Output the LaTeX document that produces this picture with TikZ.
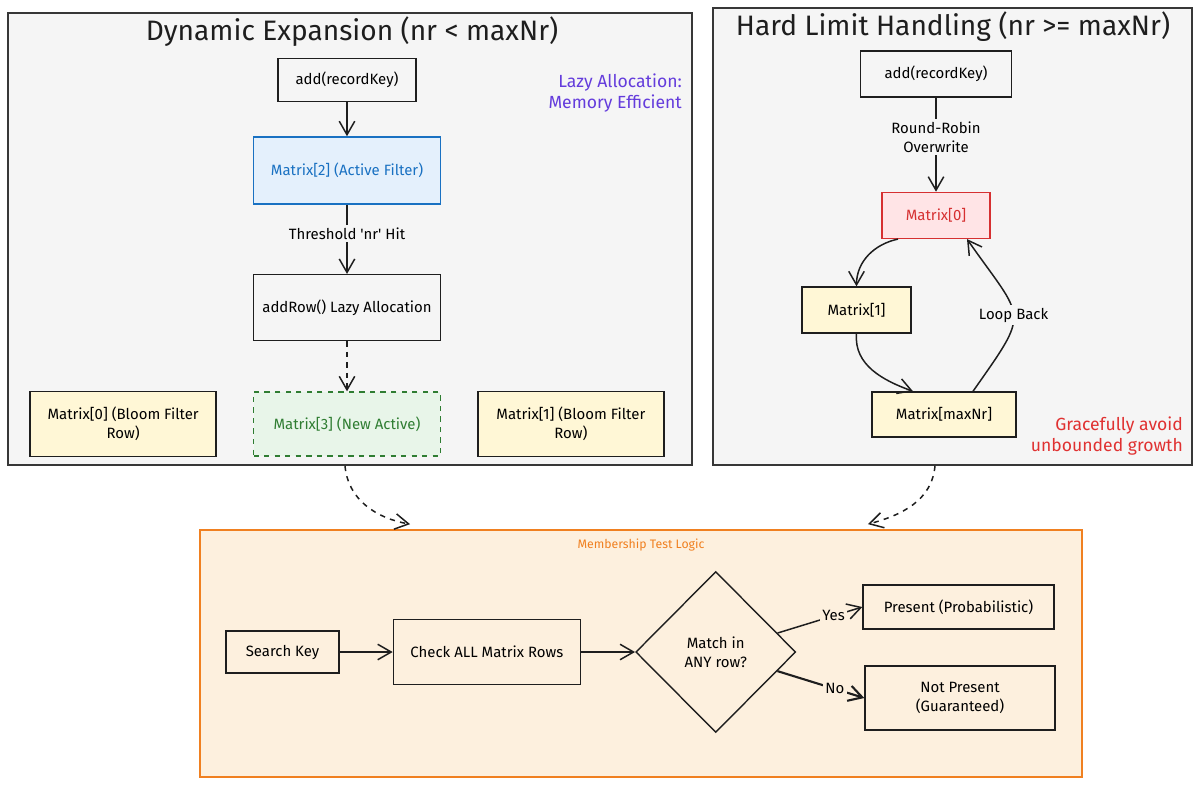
\documentclass[tikz,border=0pt]{standalone}
\usepackage{fontspec}
\setmainfont{Fira Sans}
\usetikzlibrary{positioning,arrows.meta,calc,shapes.geometric}
\definecolor{PanelGrey}{RGB}{245,245,245}
\definecolor{PanelLine}{RGB}{55,55,55}
\definecolor{InkBlack}{RGB}{30,30,30}
\definecolor{ActiveBlue}{RGB}{25,113,194}
\definecolor{ActiveFill}{RGB}{228,240,252}
\definecolor{NewGreen}{RGB}{47,125,50}
\definecolor{NewFill}{RGB}{232,245,233}
\definecolor{RowFill}{RGB}{255,247,214}
\definecolor{HotRed}{RGB}{214,48,49}
\definecolor{HotFill}{RGB}{255,228,230}
\definecolor{TestOrange}{RGB}{240,128,32}
\definecolor{TestFill}{RGB}{253,240,222}
\definecolor{NotePurple}{RGB}{100,60,220}
\definecolor{NoteRed}{RGB}{224,49,49}
\newcommand{\boxfont}{\fontsize{8.5}{11}\selectfont}
\tikzset{
  panel/.style={draw=PanelLine,fill=PanelGrey,line width=1pt},
  flow/.style={-{Straight Barb[length=2.7mm,width=3.1mm]},line width=0.85pt,draw=InkBlack},
  dashflow/.style={flow,dashed},
  box/.style={draw=InkBlack,line width=0.8pt,align=center,font=\boxfont,inner sep=2pt},
  rowbox/.style={box,fill=RowFill},
  activebox/.style={box,draw=ActiveBlue,fill=ActiveFill,text=ActiveBlue,line width=1pt},
  newbox/.style={box,draw=NewGreen,fill=NewFill,text=NewGreen,dashed,line width=0.8pt},
  hotbox/.style={box,draw=HotRed,fill=HotFill,text=HotRed},
  decision/.style={diamond,aspect=1,draw=InkBlack,line width=0.8pt,align=center,
    font=\boxfont,inner sep=1pt},
  paneltitle/.style={font=\fontsize{16}{19}\selectfont,text=InkBlack},
  sidenote/.style={align=right,font=\fontsize{10}{12}\selectfont},
  edgelabel/.style={font=\boxfont,align=center,inner sep=1.5pt}
}

\begin{document}
\begin{tikzpicture}[x=0.02cm,y=-0.02cm]
  \useasboundingbox (0,0) rectangle (1200,785);

  % panels
  \node[panel,minimum width=13.68cm,minimum height=9.04cm] (lpanel) at (350,239) {};
  \node[panel,minimum width=9.58cm,minimum height=9.14cm] (rpanel) at (952.5,236.5) {};
  \node[draw=TestOrange,fill=TestFill,line width=1pt,minimum width=17.64cm,
    minimum height=4.94cm] (bpanel) at (641,653.5) {};

  % dynamic expansion
  \node[paneltitle] (ltitle) at (352,32) {Dynamic Expansion (nr < maxNr)};
  \node[box,minimum width=2.76cm,minimum height=0.86cm] (ladd) at (347,80) {add(recordKey)};
  \node[activebox,below=0.68cm of ladd,minimum width=3.74cm,minimum height=1.34cm] (m2) {Matrix[2] (Active Filter)};
  \node[box,below=1.38cm of m2,minimum width=3.74cm,minimum height=1.32cm] (addrow) {addRow() Lazy Allocation};
  \node[newbox,below=1.0cm of addrow,minimum width=3.74cm,minimum height=1.28cm] (m3) {Matrix[3] (New Active)};
  \node[rowbox,left=0.72cm of m3,minimum width=3.72cm,minimum height=1.3cm] (m0) {Matrix[0] (Bloom Filter\\Row)};
  \node[rowbox,right=0.72cm of m3,minimum width=3.72cm,minimum height=1.3cm] (m1) {Matrix[1] (Bloom Filter\\Row)};
  \node[sidenote,text=NotePurple,anchor=east] (lazy) at (688,93) {Lazy Allocation:\\Memory Efficient};
  \draw[flow] (ladd) -- (m2);
  \draw[flow] (m2) -- node[edgelabel,fill=PanelGrey,pos=0.42] {Threshold {\textquotesingle}nr{\textquotesingle} Hit} (addrow);
  \draw[dashflow] (addrow) -- (m3);

  % hard limit
  \node[paneltitle] (rtitle) at (953,27) {Hard Limit Handling (nr >= maxNr)};
  \node[box,minimum width=3.02cm,minimum height=0.92cm] (radd) at (936,74) {add(recordKey)};
  \node[hotbox,below=1.88cm of radd,minimum width=2.16cm,minimum height=0.92cm] (rm0) {Matrix[0]};
  \node[rowbox,minimum width=2.18cm,minimum height=0.92cm] (rm1) at (856.5,310) {Matrix[1]};
  \node[rowbox,minimum width=2.88cm,minimum height=0.9cm] (rmax) at (944,414.5) {Matrix[maxNr]};
  \node[sidenote,text=NoteRed,anchor=east] (graceful) at (1189,436) {Gracefully avoid\\unbounded growth};
  \draw[flow] (radd) -- node[edgelabel,fill=PanelGrey,pos=0.42] {Round-Robin\\Overwrite} (rm0);
  \draw[flow] ([xshift=-0.76cm]rm0.south) to[out=192,in=90] (rm1.north);
  \draw[flow] (rm1.south) to[out=-95,in=160] ([xshift=-0.62cm]rmax.north);
  \draw[flow] ([xshift=0.58cm]rmax.north) to[out=55,in=-55,looseness=1.7]
    node[edgelabel,fill=PanelGrey] {Loop Back} ([xshift=0.62cm]rm0.south);

  % membership test
  \node[font=\fontsize{7}{9}\selectfont,text=TestOrange] (mtitle) at (641,545) {Membership Test Logic};
  \node[box,minimum width=2.26cm,minimum height=0.84cm] (skey) at (282.5,652) {Search Key};
  \node[box,right=1.06cm of skey,minimum width=3.74cm,minimum height=1.3cm] (check) {Check ALL Matrix Rows};
  \node[decision,right=1.08cm of check,minimum width=3.2cm,minimum height=3.22cm] (match) {Match in\\ANY row?};
  \node[box,minimum width=3.82cm,minimum height=0.88cm] (present) at (958.5,607) {Present (Probabilistic)};
  \node[box,minimum width=3.8cm,minimum height=1.28cm] (absent) at (960,698) {Not Present\\(Guaranteed)};
  \draw[flow] (skey) -- (check);
  \draw[flow] (check) -- (match);
  \draw[flow] (match) -- node[edgelabel,fill=TestFill,pos=0.66] {Yes} (present.west);
  \draw[flow,line width=1.2pt] (match) -- node[edgelabel,fill=TestFill,pos=0.66] {No} (absent.west);

  % panels feed the test
  \draw[dashflow] ([xshift=-0.1cm]lpanel.south) to[out=-85,in=170]
    ([shift={(-4.62cm,0.1cm)}]bpanel.north);
  \draw[dashflow] ([xshift=-0.35cm]rpanel.south) to[out=-95,in=15]
    ([shift={(4.54cm,0.1cm)}]bpanel.north);
\end{tikzpicture}
\end{document}
